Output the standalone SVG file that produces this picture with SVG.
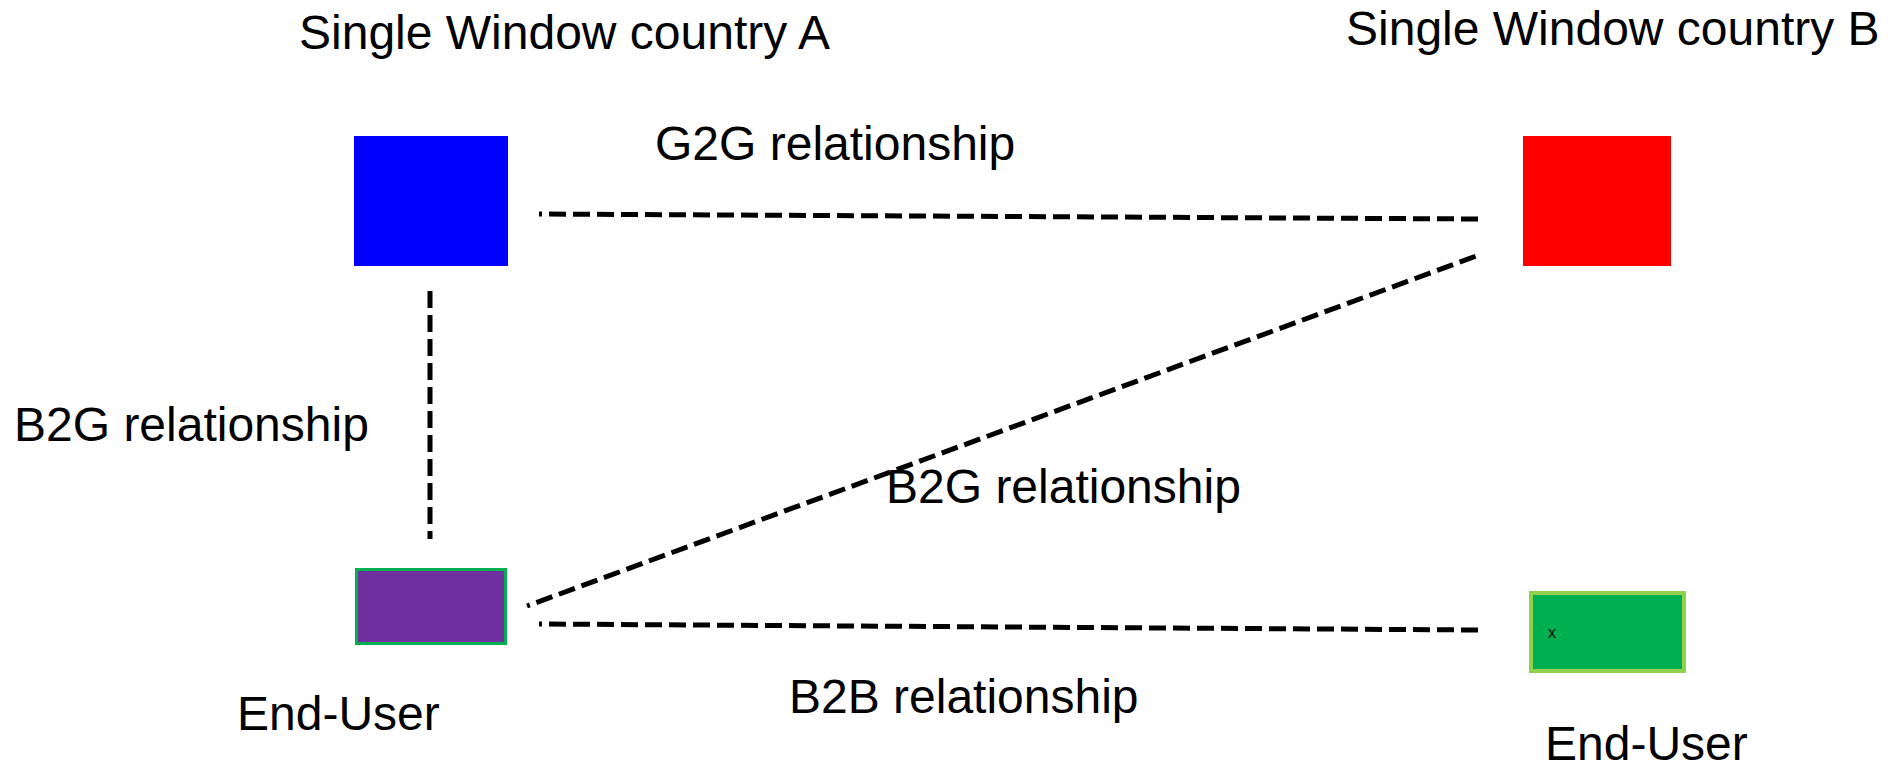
<svg xmlns="http://www.w3.org/2000/svg" width="1888" height="768" viewBox="0 0 1888 768">
<style>
text{font-family:"Liberation Sans",Arial,sans-serif;fill:#000}
.lbl{font-size:48px}
.conn{stroke:#000;stroke-width:5;fill:none;stroke-dasharray:17 7}
</style>
<rect width="1888" height="768" fill="#fff"/>
<g id="swA">
<rect x="354" y="136" width="154" height="130" fill="#0000FF"/>
<text class="lbl" x="299" y="49">Single Window country A</text>
</g>
<g id="swB">
<rect x="1523" y="136" width="148" height="130" fill="#FF0000"/>
<text class="lbl" x="1346" y="45">Single Window country B</text>
</g>
<g id="userA">
<rect x="356.5" y="569.5" width="149" height="74" fill="#7030A0" stroke="#00B050" stroke-width="3"/>
<text class="lbl" x="237" y="730">End-User</text>
</g>
<g id="userB">
<rect x="1531" y="593" width="153" height="78" fill="#00B050" stroke="#92D050" stroke-width="4"/>
<text x="1548" y="638" font-size="16">x</text>
<text class="lbl" x="1545" y="760">End-User</text>
</g>
<g id="connectors">
<line class="conn" x1="539" y1="214" x2="1479" y2="219" stroke-dashoffset="14"/>
<line class="conn" x1="527" y1="606" x2="1479" y2="255" stroke-dashoffset="14"/>
<line class="conn" x1="539" y1="624" x2="1479" y2="630" stroke-dashoffset="14"/>
<line class="conn" x1="430" y1="291" x2="430" y2="539"/>
<text class="lbl" x="655" y="160">G2G relationship</text>
<text class="lbl" x="14" y="441">B2G relationship</text>
<text class="lbl" x="886" y="503">B2G relationship</text>
<text class="lbl" x="789" y="713">B2B relationship</text>
</g>
</svg>
